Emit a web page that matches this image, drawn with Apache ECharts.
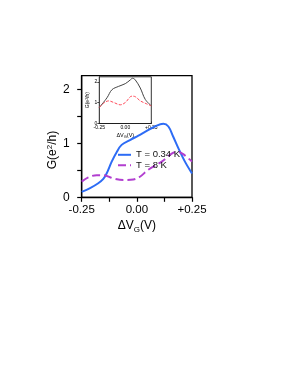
<!DOCTYPE html>
<html>
<head>
<meta charset="utf-8">
<script src="https://cdn.jsdelivr.net/npm/echarts@6/dist/echarts.min.js"></script>
<style>html,body{margin:0;padding:0;background:#fff}#c{width:291px;height:376px}</style>
</head>
<body>
<div id="c"></div>
<script>
// Main panel data: ΔV_G (V) vs G (e^2/h)
const blueX = [-0.25,-0.212,-0.175,-0.152,-0.137,-0.114,-0.091,-0.069,-0.031,0.007,0.037,0.082,0.12,0.143,0.165,0.188,0.218,0.25];
const blueY = [0.10,0.17,0.26,0.34,0.44,0.66,0.84,0.97,1.06,1.14,1.21,1.31,1.36,1.31,1.12,0.91,0.66,0.44];
const purpleX = [-0.25,-0.22,-0.182,-0.152,-0.107,-0.061,-0.016,0.014,0.052,0.113,0.158,0.188,0.21,0.25];
const purpleY = [0.29,0.37,0.41,0.41,0.35,0.32,0.33,0.38,0.51,0.66,0.81,0.84,0.80,0.66];
// Inset data
const insetBlackX = [-0.25,-0.176,-0.128,-0.064,0.0,0.048,0.07,0.096,0.144,0.192,0.25];
const insetBlackY = [0.77,1.24,1.63,1.79,1.92,2.10,2.18,2.10,1.71,1.16,0.85];
const insetRedX = [-0.25,-0.208,-0.16,-0.11,-0.048,0.0,0.064,0.096,0.144,0.19,0.25];
const insetRedY = [0.77,0.98,1.09,1.01,0.90,1.01,1.32,1.29,1.09,0.98,0.85];
const seriesNames = ['T = 0.34 K', 'T = 8 K'];
const xTickLabels = {'-0.25':'-0.25','0':'0.00','0.25':'+0.25'};

const zip = (a, b) => a.map((v, i) => [v, b[i]]);
const xFmt = v => { const k = String(Math.round(v*1000)/1000); return xTickLabels[k] !== undefined ? xTickLabels[k] : ''; };
const yFmt = v => Number.isInteger(v) ? String(v) : '';
const FONT = 'Liberation Sans, Arial, sans-serif';

const chart = echarts.init(document.getElementById('c'), null, {renderer: 'canvas'});
chart.setOption({
  backgroundColor: '#fff',
  animation: false,
  grid: [
    {left: 81.7, right: 99, top: 75.7, bottom: 178.7, show: true, borderColor: '#000', borderWidth: 1.3, backgroundColor: 'transparent'},
    {left: 99.3, right: 139.7, top: 76.8, bottom: 252.5, show: true, borderColor: '#000', borderWidth: 0.8, backgroundColor: '#fff', z: 5}
  ],
  legend: {
    data: seriesNames, left: 117, top: 149.8, orient: 'vertical', padding: 0,
    itemWidth: 13, itemHeight: 7, itemGap: 0.4,
    itemStyle: {opacity: 0},
    textStyle: {fontFamily: FONT, fontSize: 9.5, color: '#111'}
  },
  xAxis: [
    {gridIndex: 0, type: 'value', min: -0.25, max: 0.25, interval: 0.125,
     axisLine: {onZero: false, lineStyle: {color: '#000', width: 1.3}},
     axisTick: {length: 4.5, lineStyle: {color: '#000', width: 1.2}},
     axisLabel: {formatter: xFmt, fontFamily: FONT, fontSize: 11.5, color: '#000', margin: 7},
     splitLine: {show: false},
     name: 'ΔV{sub|G}(V)', nameLocation: 'middle', nameGap: 21,
     nameTextStyle: {fontFamily: FONT, fontSize: 12, color: '#000', rich: {sub: {fontFamily: FONT, fontSize: 8, verticalAlign: 'bottom', padding: [7, 0, 0, 0]}}}},
    {gridIndex: 1, type: 'value', min: -0.25, max: 0.25, interval: 0.125,
     axisLine: {onZero: false, lineStyle: {color: '#000', width: 0.8}},
     axisTick: {inside: true, length: 2, lineStyle: {color: '#000', width: 0.7}},
     axisLabel: {formatter: xFmt, fontFamily: FONT, fontSize: 5, color: '#000', margin: 2},
     splitLine: {show: false},
     name: 'ΔV{sub|G}(V)', nameLocation: 'middle', nameGap: 8,
     nameTextStyle: {fontFamily: FONT, fontSize: 5.5, color: '#000', rich: {sub: {fontFamily: FONT, fontSize: 4, padding: [3, 0, 0, 0]}}}}
  ],
  yAxis: [
    {gridIndex: 0, type: 'value', min: 0, max: 2.25, interval: 0.5,
     axisLine: {onZero: false, lineStyle: {color: '#000', width: 1.3}},
     axisTick: {length: 4.5, lineStyle: {color: '#000', width: 1.2}},
     axisLabel: {formatter: yFmt, fontFamily: FONT, fontSize: 12, color: '#000', margin: 12, showMaxLabel: false},
     splitLine: {show: false},
     name: 'G(e{sup|2}/h)', nameLocation: 'middle', nameGap: 20, nameRotate: 90,
     nameTextStyle: {fontFamily: FONT, fontSize: 12, color: '#000', padding: [0, 27, 0, 0], rich: {sup: {fontFamily: FONT, fontSize: 8, padding: [0, 0, 6, 0]}}}},
    {gridIndex: 1, type: 'value', min: 0, max: 2.25, interval: 1,
     axisLine: {onZero: false, lineStyle: {color: '#000', width: 0.8}},
     axisTick: {length: 2, lineStyle: {color: '#000', width: 0.7}},
     axisLabel: {formatter: yFmt, fontFamily: FONT, fontSize: 5, color: '#000', margin: 2, showMaxLabel: false},
     splitLine: {show: false},
     name: 'G(e{sup|2}/h)', nameLocation: 'middle', nameGap: 6, nameRotate: 90,
     nameTextStyle: {fontFamily: FONT, fontSize: 5, color: '#000', rich: {sup: {fontFamily: FONT, fontSize: 3.5, padding: [0, 0, 2, 0]}}}}
  ],
  series: [
    {name: seriesNames[0], type: 'line', xAxisIndex: 0, yAxisIndex: 0, data: zip(blueX, blueY),
     smooth: 0.35, symbol: 'none', lineStyle: {color: '#2d6cf5', width: 2}, itemStyle: {color: '#2d6cf5'}, z: 3},
    {name: seriesNames[1], type: 'line', xAxisIndex: 0, yAxisIndex: 0, data: zip(purpleX, purpleY),
     smooth: 0.35, symbol: 'none', lineStyle: {color: '#b23fd0', width: 2, type: [8, 4]}, itemStyle: {color: '#b23fd0'}, z: 3},
    {name: 'inset-low', type: 'line', xAxisIndex: 1, yAxisIndex: 1, data: zip(insetBlackX, insetBlackY),
     smooth: 0.35, symbol: 'none', lineStyle: {color: '#444', width: 1}, z: 6},
    {name: 'inset-high', type: 'line', xAxisIndex: 1, yAxisIndex: 1, data: zip(insetRedX, insetRedY),
     smooth: 0.35, symbol: 'none', lineStyle: {color: '#ff4a5a', width: 1, type: [3, 1.5]}, z: 6}
  ]
});
</script>
</body>
</html>
